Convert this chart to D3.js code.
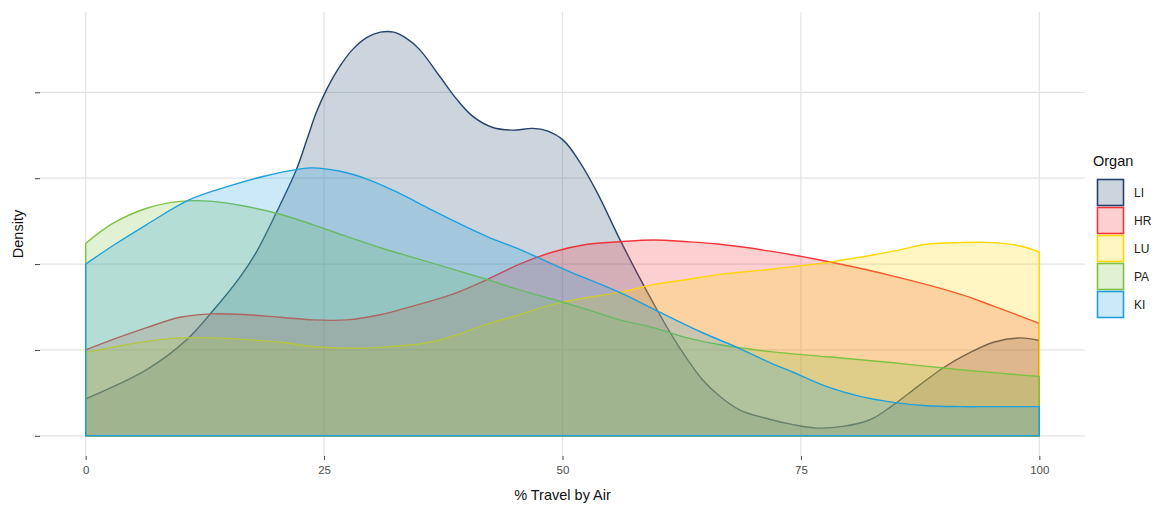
<!DOCTYPE html>
<html lang="en">
<head>
    <meta charset="UTF-8">
    <title>Density of % Travel by Air by Organ</title>
    <script src="https://d3js.org/d3.v7.min.js"></script>
    <style>
        body {
            margin: 0;
            background: #fff;
            font-family: "Liberation Sans", Arial, sans-serif;
        }
        svg {
            display: block;
        }
    </style>
</head>
<body>
    <div id="container"></div>

    <script>
        // Organ groups, in the order they are layered and listed
        const organs = ['LI', 'HR', 'LU', 'PA', 'KI'];
        const lineColors = ['#24446c', '#f0353a', '#ffd700', '#7ec242', '#1ea0dc'];

        // Density curves as [% travel by air, density] pairs.
        // The y axis has no labels, so density is read in grid steps (1 = one grid line).
        const densityLI = [
            [0, 0.43], [6.4, 0.77], [10.6, 1.12], [13.3, 1.45], [16.2, 1.85], [17.9, 2.14],
            [20.0, 2.60], [22.1, 3.10], [23.2, 3.45], [24.2, 3.77], [25.3, 4.04], [26.7, 4.31],
            [28.0, 4.50], [29.5, 4.64], [30.9, 4.70], [32.3, 4.70], [33.6, 4.63], [35.0, 4.50],
            [37.1, 4.19], [38.9, 3.92], [40.6, 3.72], [42.7, 3.59], [44.8, 3.56], [46.9, 3.58],
            [48.4, 3.55], [50.1, 3.44], [51.8, 3.19], [53.6, 2.84], [56.0, 2.29], [57.8, 1.90],
            [59.5, 1.55], [61.3, 1.20], [63.1, 0.89], [64.7, 0.65], [66.5, 0.46], [68.6, 0.30],
            [71.8, 0.19], [74.2, 0.13], [76.7, 0.09], [79.4, 0.11], [82.3, 0.19], [84.7, 0.36],
            [87.2, 0.57], [89.9, 0.79], [92.4, 0.95], [95.2, 1.09], [98.0, 1.14], [100, 1.11]
        ];
        const densityHR = [
            [0, 1.00], [2.8, 1.12], [6.4, 1.26], [9.9, 1.38], [13.3, 1.42], [16.9, 1.41],
            [20.4, 1.38], [23.8, 1.35], [27.4, 1.35], [30.9, 1.41], [34.3, 1.51], [38.5, 1.65],
            [42.1, 1.82], [45.5, 2.00], [49.0, 2.14], [52.6, 2.23], [56.0, 2.26], [59.5, 2.28],
            [63.1, 2.26], [66.5, 2.23], [71.8, 2.15], [77.8, 2.03], [84.7, 1.86], [91.7, 1.65],
            [95.2, 1.51], [100, 1.31]
        ];
        const densityLU = [
            [0, 0.97], [2.8, 1.03], [6.4, 1.10], [9.9, 1.14], [13.3, 1.14], [16.9, 1.12],
            [20.4, 1.09], [23.8, 1.04], [27.4, 1.02], [30.9, 1.03], [36.1, 1.09], [38.5, 1.16],
            [42.1, 1.30], [45.5, 1.41], [49.0, 1.53], [52.6, 1.61], [56.0, 1.67], [59.5, 1.76],
            [63.1, 1.82], [66.5, 1.88], [71.8, 1.94], [77.8, 2.02], [81.2, 2.08], [84.7, 2.15],
            [88.2, 2.23], [91.7, 2.25], [95.2, 2.25], [98.0, 2.21], [100, 2.14]
        ];
        const densityPA = [
            [0, 2.24], [2.8, 2.47], [6.4, 2.65], [9.9, 2.73], [13.3, 2.73], [16.9, 2.67],
            [20.4, 2.58], [23.8, 2.46], [27.4, 2.32], [30.9, 2.19], [36.1, 2.02], [42.1, 1.82],
            [45.5, 1.70], [49.0, 1.59], [52.6, 1.47], [56.0, 1.35], [59.5, 1.26], [63.1, 1.14],
            [66.5, 1.06], [71.8, 0.98], [77.8, 0.92], [84.7, 0.85], [91.7, 0.77], [100, 0.69]
        ];
        const densityKI = [
            [0, 2.00], [2.8, 2.21], [6.4, 2.46], [10.9, 2.75], [15.1, 2.91], [18.6, 3.02],
            [22.1, 3.10], [23.8, 3.12], [26.7, 3.08], [29.5, 2.99], [32.6, 2.84], [36.1, 2.64],
            [37.9, 2.54], [42.1, 2.32], [45.5, 2.17], [50.8, 1.91], [56.0, 1.67], [60.2, 1.44],
            [64.7, 1.20], [68.3, 1.03], [71.8, 0.85], [74.2, 0.74], [77.8, 0.57], [81.2, 0.46],
            [84.7, 0.39], [88.2, 0.35], [91.7, 0.34], [95.2, 0.34], [100, 0.34]
        ];
        const curves = [densityLI, densityHR, densityLU, densityPA, densityKI];

        const xTicks = [0, 25, 50, 75, 100];
        const yTicks = [0, 1, 2, 3, 4];

        const width = 1157;
        const height = 506;

        // panel box (ggplot style, 5% expansion on both axes)
        const panel = { left: 38, right: 1087, top: 12, bottom: 456 };

        const svg = d3.select('#container')
            .append('svg')
            .attr('width', width)
            .attr('height', height);

        const x = d3.scaleLinear()
            .domain([-5, 105])
            .range([panel.left, panel.right]);

        const yMax = d3.max(curves, c => d3.max(c, d => d[1]));
        const y = d3.scaleLinear()
            .domain([-0.05 * yMax, 1.05 * yMax])
            .range([panel.bottom, panel.top]);

        // grid lines
        svg.append('g')
            .selectAll('line')
            .data(xTicks)
            .enter()
            .append('line')
            .attr('x1', d => x(d))
            .attr('x2', d => x(d))
            .attr('y1', panel.top)
            .attr('y2', panel.bottom)
            .attr('stroke', '#e3e3e3')
            .attr('stroke-width', 1.2);

        svg.append('g')
            .selectAll('line')
            .data(yTicks)
            .enter()
            .append('line')
            .attr('x1', panel.left + 2)
            .attr('x2', panel.right - 2)
            .attr('y1', d => y(d))
            .attr('y2', d => y(d))
            .attr('stroke', '#e3e3e3')
            .attr('stroke-width', 1.2);

        // density areas, drawn in factor order so KI ends on top
        const area = d3.area()
            .x(d => x(d[0]))
            .y0(y(0))
            .y1(d => y(d[1]))
            .curve(d3.curveCatmullRom.alpha(0.5));

        svg.append('g')
            .selectAll('path')
            .data(curves)
            .enter()
            .append('path')
            .attr('d', d => area(d))
            .attr('fill', (d, i) => lineColors[i])
            .attr('fill-opacity', 0.23)
            .attr('stroke', (d, i) => lineColors[i])
            .attr('stroke-width', 1.4)
            .attr('stroke-linejoin', 'round');

        // axes: ticks only on y, ticks plus labels on x
        const xAxis = svg.append('g')
            .attr('transform', `translate(0,${panel.bottom})`)
            .call(d3.axisBottom(x).tickValues(xTicks).tickSize(4).tickPadding(6));
        xAxis.select('.domain').remove();
        xAxis.selectAll('line').attr('stroke', '#444');
        xAxis.selectAll('text')
            .attr('fill', '#4d4d4d')
            .style('font-size', '11.5px')
            .style('font-family', '"Liberation Sans", Arial, sans-serif');

        const yAxis = svg.append('g')
            .attr('transform', `translate(${panel.left + 2},0)`)
            .call(d3.axisLeft(y).tickValues(yTicks).tickSize(5).tickFormat(''));
        yAxis.select('.domain').remove();
        yAxis.selectAll('line').attr('stroke', '#444');

        // axis titles
        svg.append('text')
            .attr('x', (x(0) + x(100)) / 2)
            .attr('y', 500)
            .attr('text-anchor', 'middle')
            .style('font-size', '14.5px')
            .attr('fill', '#111')
            .text('% Travel by Air');

        svg.append('text')
            .attr('transform', `translate(23,${(panel.top + panel.bottom) / 2}) rotate(-90)`)
            .attr('text-anchor', 'middle')
            .style('font-size', '14.5px')
            .attr('fill', '#111')
            .text('Density');

        // legend
        const legend = svg.append('g')
            .attr('transform', 'translate(1093,0)');

        legend.append('text')
            .attr('x', 0)
            .attr('y', 166)
            .style('font-size', '14.5px')
            .attr('fill', '#111')
            .text('Organ');

        const keys = legend.selectAll('.key')
            .data(organs)
            .enter()
            .append('g')
            .attr('class', 'key')
            .attr('transform', (d, i) => `translate(4,${179 + i * 28})`);

        keys.append('rect')
            .attr('x', 0.5)
            .attr('y', 0.5)
            .attr('width', 26)
            .attr('height', 26)
            .attr('fill', (d, i) => lineColors[i])
            .attr('fill-opacity', 0.23)
            .attr('stroke', (d, i) => lineColors[i])
            .attr('stroke-width', 1.6);

        keys.append('text')
            .attr('x', 37)
            .attr('y', 18)
            .style('font-size', '12px')
            .attr('fill', '#222')
            .text(d => d);
    </script>
</body>
</html>
